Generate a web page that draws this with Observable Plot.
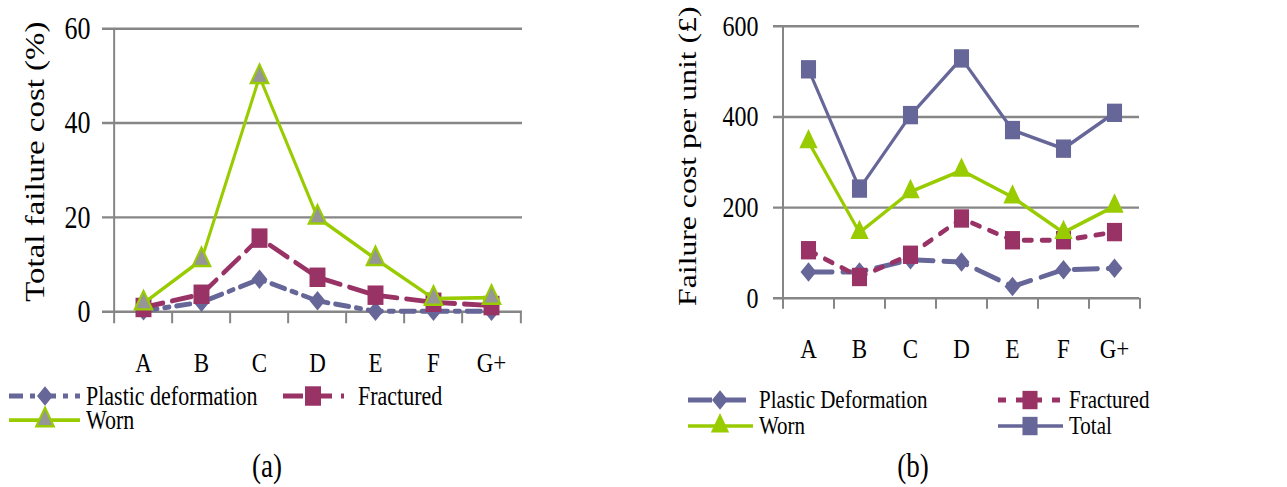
<!DOCTYPE html>
<html><head><meta charset="utf-8">
<script src="https://cdn.jsdelivr.net/npm/d3@7"></script>
<script src="https://cdn.jsdelivr.net/npm/@observablehq/plot@0.6"></script>
<style>
html,body{margin:0;padding:0;background:#fff;}
body{width:1287px;height:487px;}
#fig{position:relative;width:1287px;height:399px;transform:scaleY(1.22);transform-origin:0 0;font-family:"Liberation Serif","Times New Roman",serif;}
#fig > *{position:absolute;top:0;}
</style></head><body><div id="fig"></div>
<script>
// ---- data ----
const categories = ["A","B","C","D","E","F","G+"];
// (a) Total failure cost (%)
const aPlastic   = [0.2, 2.0, 6.9, 2.3, 0.1, 0.1, 0.1];
const aFractured = [0.9, 3.7, 15.6, 7.3, 3.5, 2.0, 1.3];
const aWorn      = [1.8, 11.0, 49.8, 20.0, 11.2, 2.8, 3.0];
const aTicks = [0, 20, 40, 60];
// (b) Failure cost per unit (£)
const bPlastic   = [58, 58, 85, 80, 26, 63, 66];
const bFractured = [106, 47, 96, 176, 128, 128, 146];
const bWorn      = [345, 145, 235, 282, 223, 145, 203];
const bTotal     = [505, 242, 404, 529, 371, 330, 409];
const bTicks = [0, 200, 400, 600];

const FONT = '"Liberation Serif","Times New Roman",serif';
const BLUE = "#666699", MAG = "#993366", GREEN = "#99CC00", GRAY = "#969696", GRID = "#868686";

const rows = (vals) => categories.map((c, i) => ({cat: c, v: vals[i]}));

function makeChart(cfg) {
  const {width, height, mL, mR, mT, mB, yDomain, yTicks, tickFont, tickPad, title, titleFont, titleDx, titleDy, tickLen, series} = cfg;
  const innerW = width - mL - mR, innerH = height - mT - mB;
  const step = innerW / categories.length;
  const gridStyle = {stroke: GRID, strokeWidth: 2};
  const marks = [
    Plot.ruleY(yTicks, {...gridStyle, insetLeft: -9}),
    Plot.ruleX([categories[0]], {...gridStyle, dx: -step / 2}),
    Plot.ruleX(categories, {...gridStyle, dx: -step / 2, insetTop: innerH, insetBottom: -tickLen}),
    Plot.ruleX([categories[categories.length - 1]], {...gridStyle, dx: step / 2, insetTop: innerH, insetBottom: -tickLen}),
    Plot.axisY({ticks: yTicks, tickSize: 0, tickPadding: tickPad, fontSize: tickFont, fontFamily: FONT, fontVariant: "normal", label: null}),
    Plot.axisX({tickSize: 0, tickPadding: 33, fontSize: 23, fontFamily: FONT, label: null}),
    Plot.text([title], {text: d => d, frameAnchor: "left", rotate: -90, dx: titleDx, dy: titleDy, fontSize: titleFont, fontFamily: FONT, textAnchor: "middle", lineAnchor: "middle", fill: "black"})
  ];
  for (const s of series) {
    const data = rows(s.values);
    marks.push(Plot.line(data, {x: "cat", y: "v", stroke: s.color, strokeWidth: s.width, strokeDasharray: s.dash}));
    marks.push(Plot.dot(data, {x: "cat", y: "v", symbol: s.symbol, r: s.r, fill: s.fill, stroke: s.stroke || "none", strokeWidth: s.sw || 0}));
  }
  return Plot.plot({
    width, height,
    marginLeft: mL, marginRight: mR, marginTop: mT, marginBottom: mB,
    x: {type: "point", domain: categories, padding: 0.5},
    y: {domain: yDomain},
    style: {background: "transparent", fontFamily: FONT, fontSize: "23px", color: "black", overflow: "visible"},
    marks
  });
}

const seriesA = [
  {name: "Plastic deformation", values: aPlastic, color: BLUE, width: 4, dash: "14,7,5,7", symbol: "diamond2", r: 7.2, fill: BLUE},
  {name: "Fractured", values: aFractured, color: MAG, width: 4, dash: "20,9", symbol: "square", r: 9, fill: MAG},
  {name: "Worn", values: aWorn, color: GREEN, width: 3, dash: null, symbol: "triangle", r: 6.5, fill: GRAY, stroke: GREEN, sw: 2}
];
const seriesB = [
  {name: "Plastic Deformation", values: bPlastic, color: BLUE, width: 4, dash: "24,10", symbol: "diamond2", r: 7.2, fill: BLUE},
  {name: "Fractured", values: bFractured, color: MAG, width: 4, dash: "8,10", symbol: "square", r: 8.5, fill: MAG},
  {name: "Worn", values: bWorn, color: GREEN, width: 3, dash: null, symbol: "triangle", r: 6.8, fill: GREEN},
  {name: "Total", values: bTotal, color: BLUE, width: 3, dash: null, symbol: "square", r: 8.5, fill: BLUE}
];

const fig = document.getElementById("fig");
const chartA = makeChart({width: 640, height: 310, mL: 111, mR: 118, mT: 23, mB: 55, yDomain: [0, 60], yTicks: aTicks,
  tickFont: 26, tickPad: 21, title: "Total failure cost (%)", titleFont: 27, titleDx: -76, titleDy: -7, tickLen: 10, series: seriesA});
chartA.style.left = "0px";
fig.appendChild(chartA);
const chartB = makeChart({width: 647, height: 300, mL: 142, mR: 148, mT: 21, mB: 56, yDomain: [0, 600], yTicks: bTicks,
  tickFont: 24, tickPad: 24, title: "Failure cost per unit (£)", titleFont: 26, titleDx: -95, titleDy: -5, tickLen: 9, series: seriesB});
chartB.style.left = "640px";
fig.appendChild(chartB);

// ---- legends and captions ----
const symbolOf = {square: d3.symbolSquare, diamond2: d3.symbolDiamond2, triangle: d3.symbolTriangle};
const legendItems = [
  {s: seriesA[0], x1: 9, x2: 80, mx: 45, y: 324.6, tx: 86, fs: 22},
  {s: seriesA[1], x1: 283, x2: 344, mx: 313, y: 324.6, tx: 358, fs: 22},
  {s: seriesA[2], x1: 9, x2: 80, mx: 45, y: 344.3, tx: 86, fs: 22},
  {s: seriesB[0], x1: 688, x2: 753, mx: 720, y: 327.9, tx: 759, fs: 21},
  {s: seriesB[1], x1: 998, x2: 1063, mx: 1030, y: 327.9, tx: 1069, fs: 21},
  {s: seriesB[2], x1: 688, x2: 753, mx: 720, y: 349.2, tx: 759, fs: 21},
  {s: seriesB[3], x1: 998, x2: 1063, mx: 1030, y: 349.2, tx: 1069, fs: 21}
];
const svg = d3.create("svg").attr("width", 1287).attr("height", 399)
  .style("left", "0px").style("pointer-events", "none").style("overflow", "visible")
  .attr("font-family", FONT);
for (const it of legendItems) {
  const g = svg.append("g");
  g.append("line").attr("x1", it.x1).attr("x2", it.x2).attr("y1", it.y).attr("y2", it.y)
    .attr("stroke", it.s.color).attr("stroke-width", it.s.width)
    .attr("stroke-dasharray", it.s.dash);
  g.append("path").attr("transform", `translate(${it.mx},${it.y})`)
    .attr("d", d3.symbol(symbolOf[it.s.symbol], Math.PI * it.s.r * it.s.r)())
    .attr("fill", it.s.fill).attr("stroke", it.s.stroke || "none").attr("stroke-width", it.s.sw || 0);
  g.append("text").attr("x", it.tx).attr("y", it.y).attr("dy", "0.33em")
    .attr("font-size", it.fs).attr("fill", "black").text(it.s.name);
}
for (const c of [{t: "(a)", x: 267}, {t: "(b)", x: 913}]) {
  svg.append("text").attr("x", c.x).attr("y", 382.8).attr("dy", "0.3em")
    .attr("text-anchor", "middle").attr("font-size", 27).attr("fill", "black").text(c.t);
}
fig.appendChild(svg.node());
</script>
</body></html>
